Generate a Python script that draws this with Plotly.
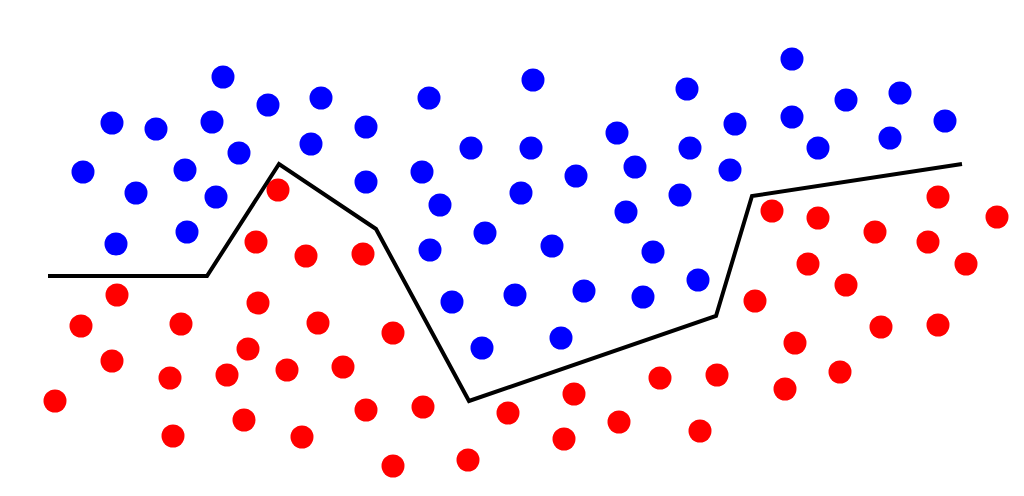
import plotly.graph_objects as go

blue_x = [223,112,156,212,268,321,83,185,239,311,366,136,216,366,116,187,429,533,471,531,422,440,521,576,485,430,552,452,515,584,482,561,617,635,687,690,735,730,680,626,653,698,643,792,846,900,792,818,890,945]
blue_y = [76,122,128,121,104,97,171,169,152,143,126,192,196,181,243,231,97,79,147,147,171,204,192,175,232,249,245,301,294,290,347,337,132,166,88,147,123,169,194,211,251,279,296,58,99,92,116,147,137,120]

red_x = [278,256,306,363,117,81,181,258,318,393,112,248,170,227,287,343,55,173,244,302,366,423,393,468,508,574,564,619,660,717,700,755,772,818,875,938,997,928,966,808,846,795,881,938,785,840]
red_y = [189,241,255,253,294,325,323,302,322,332,360,348,377,374,369,366,400,435,419,436,409,406,465,459,412,393,438,421,377,374,430,300,210,217,231,196,216,241,263,263,284,342,326,324,388,371]

line_x = [48,207,279,376,469,716,752,962]
line_y = [275,275,163,228,400,315,195,163]

fig = go.Figure()
fig.add_trace(go.Scatter(x=blue_x, y=blue_y, mode="markers",
                         marker=dict(color="#0000ff", size=23, line=dict(width=0))))
fig.add_trace(go.Scatter(x=red_x, y=red_y, mode="markers",
                         marker=dict(color="#ff0000", size=23, line=dict(width=0))))
fig.add_trace(go.Scatter(x=line_x, y=line_y, mode="lines",
                         line=dict(color="black", width=4)))
fig.update_layout(width=1024, height=496, margin=dict(l=0, r=0, t=0, b=0),
                  showlegend=False, plot_bgcolor="white", paper_bgcolor="white",
                  xaxis=dict(range=[0, 1024], visible=False),
                  yaxis=dict(range=[495, -1], visible=False))
fig.write_html("out.html")
